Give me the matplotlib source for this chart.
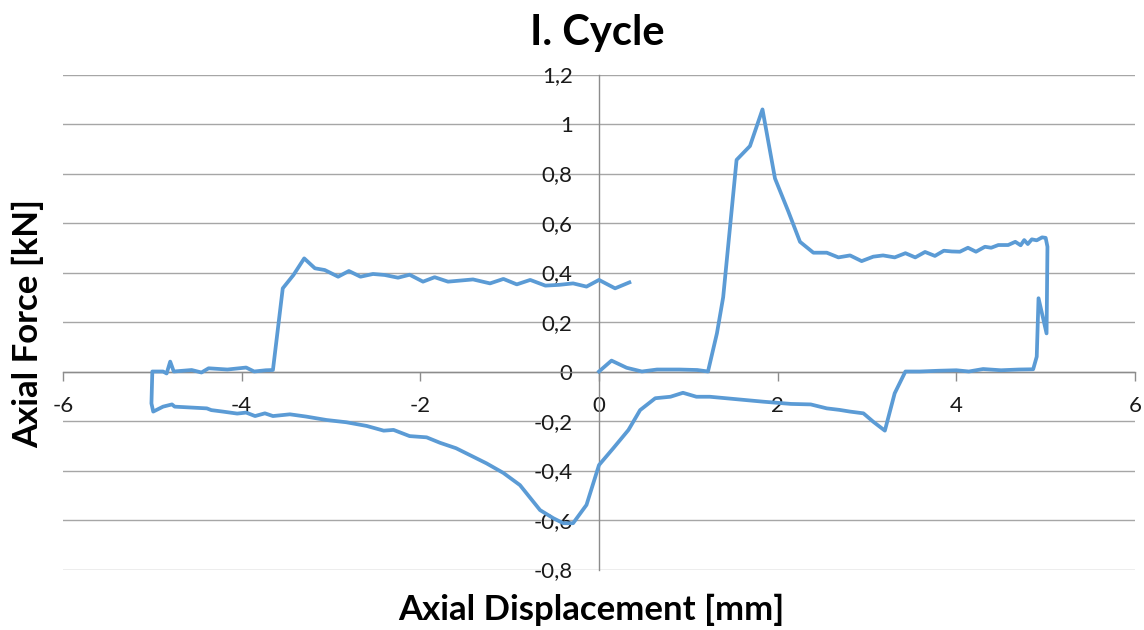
import matplotlib
matplotlib.use("Agg")
import matplotlib.pyplot as plt
from matplotlib.ticker import FuncFormatter

plt.rcParams['font.family'] = ['Lato', 'DejaVu Sans']

# Datos (desplazamiento [mm], fuerza [kN])
displacement = [
    0.0, 0.14, 0.31, 0.48, 0.65, 0.9, 1.1, 1.22, 1.32, 1.39, 1.54, 1.69, 1.83, 1.97,
    2.12, 2.25, 2.40, 2.55, 2.68, 2.81, 2.94, 3.07, 3.18, 3.31, 3.43, 3.54, 3.65, 3.76,
    3.86, 3.95, 4.04, 4.13, 4.22, 4.32, 4.39, 4.47, 4.58, 4.66, 4.72, 4.76, 4.80, 4.845,
    4.90, 4.96, 5.0, 5.02, 5.01, 4.92, 4.90, 4.86, 4.7, 4.5, 4.3, 4.14, 4.0, 3.8,
    3.59, 3.43, 3.31, 3.20, 3.07, 2.96, 2.81, 2.69, 2.55, 2.37, 2.15, 1.84, 1.54, 1.24,
    1.09, 0.94, 0.80, 0.63, 0.46, 0.33, 0.16, 0.0, -0.14, -0.29, -0.40, -0.51, -0.66,
    -0.885, -1.07, -1.26, -1.41, -1.60, -1.78, -1.93, -2.12, -2.30, -2.41, -2.60, -2.83,
    -3.05, -3.28, -3.46, -3.65, -3.74, -3.85, -3.95, -4.05, -4.21, -4.34, -4.39, -4.54,
    -4.75, -4.78, -4.88, -4.99, -5.01, -5.0, -4.88, -4.84, -4.80, -4.76, -4.56, -4.45,
    -4.37, -4.16, -3.95, -3.86, -3.73, -3.65, -3.54, -3.42, -3.30, -3.18, -3.07, -2.92,
    -2.80, -2.67, -2.53, -2.40, -2.25, -2.12, -1.97, -1.84, -1.69, -1.41, -1.22, -1.07,
    -0.92, -0.77, -0.60, -0.45, -0.29, -0.14, 0.0, 0.18, 0.34,
]
force = [
    0.0, 0.044, 0.015, 0.0, 0.008, 0.008, 0.006, 0.0, 0.154, 0.30, 0.855, 0.911, 1.059, 0.78,
    0.646, 0.524, 0.48, 0.48, 0.461, 0.469, 0.446, 0.464, 0.469, 0.461, 0.478, 0.461, 0.483, 0.467,
    0.488, 0.485, 0.484, 0.50, 0.484, 0.504, 0.50, 0.511, 0.511, 0.524, 0.51, 0.531, 0.515, 0.534,
    0.53, 0.542, 0.54, 0.504, 0.154, 0.296, 0.06, 0.009, 0.008, 0.005, 0.01, 0.0, 0.005, 0.003,
    0.0, 0.0, -0.088, -0.239, -0.203, -0.169, -0.162, -0.155, -0.149, -0.133, -0.131, -0.122, -0.112, -0.102,
    -0.102, -0.086, -0.102, -0.108, -0.156, -0.236, -0.31, -0.378, -0.539, -0.613, -0.613, -0.593, -0.56,
    -0.459, -0.41, -0.371, -0.344, -0.31, -0.288, -0.266, -0.261, -0.236, -0.239, -0.22, -0.205,
    -0.196, -0.182, -0.173, -0.18, -0.169, -0.18, -0.166, -0.17, -0.162, -0.156, -0.149, -0.146,
    -0.142, -0.133, -0.142, -0.162, -0.129, 0.0, 0.0, -0.008, 0.04, 0.0, 0.006, -0.004,
    0.013, 0.008, 0.016, 0.0, 0.005, 0.006, 0.336, 0.39, 0.457, 0.417, 0.41, 0.383,
    0.406, 0.383, 0.394, 0.39, 0.379, 0.391, 0.363, 0.381, 0.363, 0.372, 0.356, 0.374,
    0.352, 0.37, 0.347, 0.35, 0.356, 0.343, 0.37, 0.336, 0.36,
]

x_ticks = [-6, -4, -2, 0, 2, 4, 6]
y_ticks = [-0.8, -0.6, -0.4, -0.2, 0, 0.2, 0.4, 0.6, 0.8, 1, 1.2]

axis_gray = '#8c8c8c'

fig = plt.figure(figsize=(11.44, 6.30), dpi=100)
ax = fig.add_axes([63 / 1144, 1 - 569.5 / 630, (1135 - 63) / 1144, (569.5 - 74.5) / 630])

ax.plot(displacement, force, color='#5B9BD5', linewidth=2.7, solid_joinstyle='round', zorder=3)

ax.set_xlim(-6, 6)
ax.set_ylim(-0.8, 1.2)
ax.set_xticks(x_ticks)
ax.set_yticks(y_ticks)

def comma_fmt(v, pos):
    s = f"{v:.1f}".rstrip('0').rstrip('.')
    if s == '-0':
        s = '0'
    return s.replace('.', ',')

ax.xaxis.set_major_formatter(FuncFormatter(comma_fmt))
ax.yaxis.set_major_formatter(FuncFormatter(comma_fmt))

# ejes cruzando en el origen, estilo Excel
for side in ['top', 'right']:
    ax.spines[side].set_visible(False)
ax.spines['left'].set_position(('data', 0))
ax.spines['bottom'].set_position(('data', 0))
ax.spines['left'].set_color(axis_gray)
ax.spines['bottom'].set_color(axis_gray)
ax.spines['left'].set_linewidth(1.0)
ax.spines['bottom'].set_linewidth(1.0)

ax.grid(axis='y', color='#a6a6a6', linewidth=1.0, zorder=0)
ax.set_axisbelow(True)

ax.tick_params(axis='x', direction='out', length=6.5, width=1.0, color=axis_gray,
               labelsize=16, labelcolor='#1a1a1a', pad=11)
ax.tick_params(axis='y', length=0, labelsize=16, labelcolor='#1a1a1a', pad=19)

fig.text(597 / 1144, 1 - 33 / 630, 'I. Cycle', ha='center', va='center',
         fontsize=30, fontweight='bold')
fig.text(591 / 1144, 1 - 610 / 630, 'Axial Displacement [mm]', ha='center', va='center',
         fontsize=25, fontweight='bold')
fig.text(28 / 1144, 1 - 323 / 630, 'Axial Force [kN]', ha='center', va='center',
         rotation=90, fontsize=25, fontweight='bold')

fig.savefig('out.png', dpi=100)
